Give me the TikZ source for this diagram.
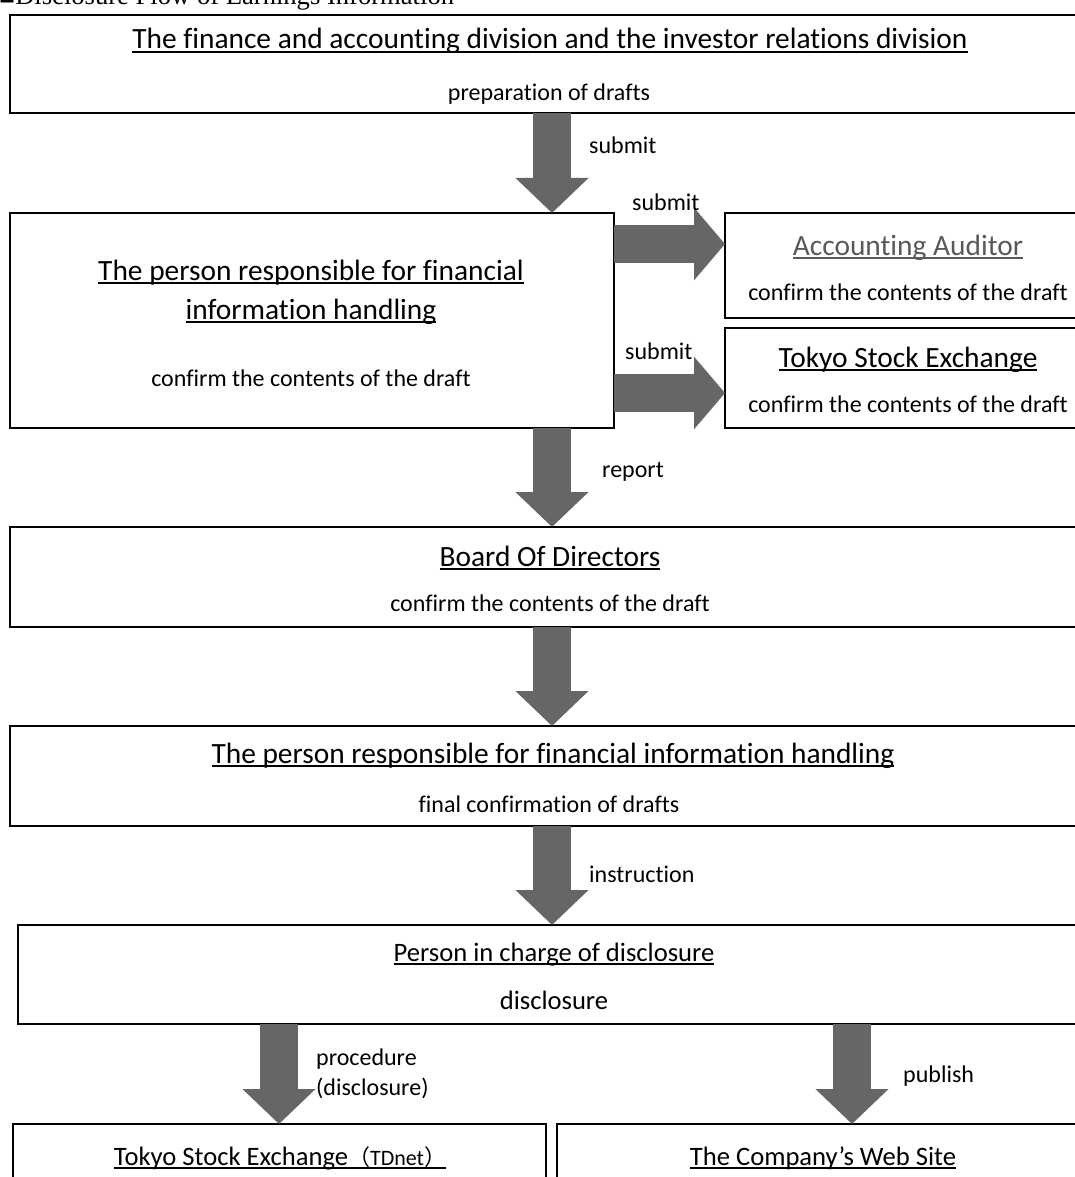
\documentclass[tikz,border=0pt]{standalone}
\usepackage{fontspec}
\setmainfont{Carlito}[Ligatures={NoCommon}]
\newfontfamily\titlefont{Liberation Serif}
\newfontfamily\cjk{Noto Sans CJK JP}
\usetikzlibrary{arrows.meta}
\definecolor{arrowgray}{HTML}{666666}
\definecolor{audgray}{HTML}{595959}
\newcommand\ulin[1]{\setbox0=\hbox{#1}\leavevmode\rlap{\rule[-4.2pt]{\wd0}{1.8pt}}\box0}
\tikzset{
  boxr/.style={draw=black, line width=1.6pt},
  big/.style={font=\fontsize{29.4}{34}\selectfont, anchor=base, inner sep=0pt},
  mid/.style={font=\fontsize{26.6}{31}\selectfont, anchor=base, inner sep=0pt},
  small/.style={font=\fontsize{24}{28}\selectfont, anchor=base, inner sep=0pt},
  lbl/.style={font=\fontsize{24}{28}\selectfont, anchor=base west, inner sep=0pt},
  downarrow/.style={draw=arrowgray, line width=38pt, -{Triangle[width=71pt,length=35pt]}},
  rightarrow/.style={draw=arrowgray, line width=38pt, -{Triangle[width=71pt,length=31pt]}},
}
\begin{document}
\begin{tikzpicture}[x=1pt,y=-1pt]
\useasboundingbox (0,0) rectangle (1075,1177);
\clip (0,0) rectangle (1075,1177);
\fill[white] (0,0) rectangle (1075,1177);

% title (cut off at the top edge, as in the reference)
\node[anchor=base west, inner sep=0pt, font=\titlefont\fontsize{26.6}{30}\selectfont] (title) at (-1,5) {■Disclosure Flow of Earnings Information};

% boxes
\draw[boxr] (10,15) rectangle (1090,113);
\draw[boxr] (10,213) rectangle (614,428);
\draw[boxr] (725,213) rectangle (1090,318);
\draw[boxr] (725,328) rectangle (1090,428);
\draw[boxr] (10,527) rectangle (1090,627);
\draw[boxr] (10,726) rectangle (1090,826);
\draw[boxr] (18,925) rectangle (1090,1024);
\draw[boxr] (13,1124) rectangle (546,1200);
\draw[boxr] (557,1124) rectangle (1090,1200);

% named anchor points on box edges
\coordinate (b1bot) at (552,113);
\coordinate (b2top) at (552,213);
\coordinate (b2bot) at (552,428);
\coordinate (b3top) at (552,527);
\coordinate (b3bot) at (552,627);
\coordinate (b4top) at (552,726);
\coordinate (b4bot) at (552,826);
\coordinate (b5top) at (552,925);
\coordinate (b5botL) at (279,1024);
\coordinate (b6top) at (279,1124);
\coordinate (b5botR) at (852,1024);
\coordinate (b7top) at (852,1124);
\coordinate (b2r1) at (614,244);
\coordinate (audl) at (725,244);
\coordinate (b2r2) at (614,393);
\coordinate (tsel) at (725,393);

% arrows
\draw[downarrow] (b1bot) -- (b2top);
\draw[rightarrow] (b2r1) -- (audl);
\draw[rightarrow] (b2r2) -- (tsel);
\draw[downarrow] (b2bot) -- (b3top);
\draw[downarrow] (b3bot) -- (b4top);
\draw[downarrow] (b4bot) -- (b5top);
\draw[downarrow] (b5botL) -- (b6top);
\draw[downarrow] (b5botR) -- (b7top);

% texts
\node[big] (t1) at (550,49) {\ulin{The finance and accounting division and the investor relations division}};
\node[small] (t1b) at (549,101) {preparation of drafts};
\node[lbl] (l1) at (589,154) {submit};

\node[big] (t2a) at (311,280) {\ulin{The person responsible for financial}};
\node[big] (t2b) at (311,319) {\ulin{information handling}};
\node[small] (t2c) at (311,386) {confirm the contents of the draft};

\node[lbl] (l2) at (632,211) {submit};
\node[big, text=audgray] (t3a) at (908,255) {\ulin{Accounting Auditor}};
\node[small] (t3b) at (908,300) {confirm the contents of the draft};

\node[lbl] (l3) at (625,359) {submit};
\node[big] (t4a) at (908,367) {\ulin{Tokyo Stock Exchange}};
\node[small] (t4b) at (908,412) {confirm the contents of the draft};

\node[lbl] (l4) at (602,477) {report};
\node[big] (t5a) at (550,566) {\ulin{Board Of Directors}};
\node[small] (t5b) at (550,611) {confirm the contents of the draft};

\node[big] (t6a) at (553,763) {\ulin{The person responsible for financial information handling}};
\node[small] (t6b) at (549,812) {final confirmation of drafts};
\node[lbl] (l5) at (589,882) {instruction};

\node[mid] (t7a) at (554,961) {\ulin{Person in charge of disclosure}};
\node[mid] (t7b) at (554,1009) {disclosure};

\node[lbl] (l6) at (316,1065) {procedure};
\node[lbl] (l7) at (316,1095) {(disclosure)};
\node[lbl] (l8) at (903,1082) {publish};

\node[mid] (t8) at (280,1165) {\ulin{Tokyo Stock Exchange{\cjk\fontsize{22}{26}\selectfont （}{\fontsize{22}{26}\selectfont TDnet}{\cjk\fontsize{22}{26}\selectfont ）}}};
\node[mid] (t9) at (823,1165) {\ulin{The Company’s Web Site}};
\end{tikzpicture}
\end{document}
